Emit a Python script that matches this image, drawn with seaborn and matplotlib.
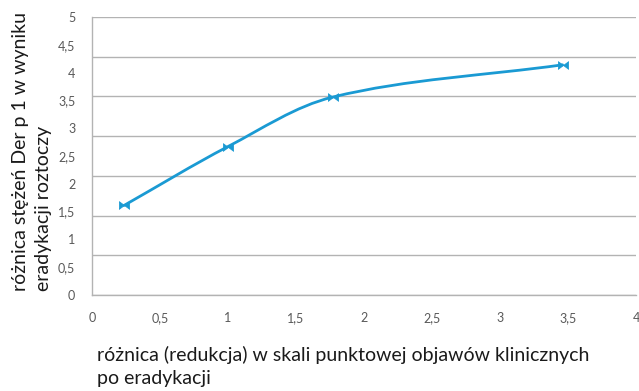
import numpy as np
import matplotlib
matplotlib.use("Agg")
from matplotlib import pyplot as plt
from matplotlib.path import Path
from matplotlib.patches import PathPatch
import seaborn as sns
import pandas as pd

# Data
x_vals = [0.235, 1.0, 1.77, 3.46]
y_vals = [1.61, 2.67, 3.56, 4.14]

x_ticks = [0, 0.5, 1, 1.5, 2, 2.5, 3, 3.5, 4]
y_labels = [0, 0.5, 1, 1.5, 2, 2.5, 3, 3.5, 4, 4.5, 5]
n_grid = 7  # gridlines split 0..5 into 7 bands

x_title = "różnica (redukcja) w skali punktowej objawów klinicznych\npo eradykacji"
y_title = "różnica stężeń Der p 1 w wyniku\neradykacji roztoczy"

df = pd.DataFrame({"x": x_vals, "y": y_vals})

sns.set_style("white")
plt.rcParams["font.family"] = ["Lato", "DejaVu Sans"]

blue = "#1a9ad3"
grey = "#b3b3b3"

fig = plt.figure(figsize=(6.39, 3.91), dpi=100)
ax = fig.add_axes([92 / 639, 1 - 295 / 391, 544 / 639, 278 / 391])

ax.set_xlim(0, 4)
ax.set_ylim(0, 5)

# smoothed line through the points, tangents worked out in pixel space
sx, sy = 544 / 4, 278 / 5
pts = np.column_stack([df["x"] * sx, df["y"] * sy])
n = len(pts)
tang = []
for i in range(n):
    d = pts[min(i + 1, n - 1)] - pts[max(i - 1, 0)]
    tang.append(d / np.hypot(*d))
verts = [pts[0]]
codes = [Path.MOVETO]
for i in range(n - 1):
    L = np.hypot(*(pts[i + 1] - pts[i])) / 3
    verts += [pts[i] + tang[i] * L, pts[i + 1] - tang[i + 1] * L, pts[i + 1]]
    codes += [Path.CURVE4] * 3
verts = np.array(verts) / [sx, sy]
ax.add_patch(PathPatch(Path(verts, codes), facecolor="none", edgecolor=blue,
                       lw=2.0, zorder=3, capstyle="round"))

bowtie = [(-1, -0.75), (1, 0.75), (1, -0.75), (-1, 0.75), (-1, -0.75)]
sns.scatterplot(data=df, x="x", y="y", ax=ax, marker=bowtie, s=55,
                color=blue, edgecolor=blue, linewidth=0.5, zorder=4)

# gridlines / ticks
ax.yaxis.remove_overlapping_locs = False
grid_pos = [5 * k / n_grid for k in range(n_grid + 1)]
ax.set_yticks(grid_pos)
ax.set_yticklabels([])
ax.set_yticks(y_labels, minor=True)
ax.set_yticklabels([str(v).replace(".", ",").replace(",0", "") for v in y_labels],
                   minor=True)
ax.tick_params(axis="y", which="major", length=4, color=grey, width=1)
ax.tick_params(axis="y", which="minor", length=0, pad=12, labelsize=9,
               labelcolor="#595959")
ax.grid(axis="y", which="major", color=grey, lw=1)

ax.set_xticks(x_ticks)
ax.set_xticklabels([str(v).replace(".", ",").replace(",0", "") for v in x_ticks])
ax.tick_params(axis="x", direction="inout", length=6, color=grey, width=1,
               labelsize=9, labelcolor="#595959", pad=9)

for s in ["top", "right"]:
    ax.spines[s].set_visible(False)
for s in ["left", "bottom"]:
    ax.spines[s].set_color(grey)
    ax.spines[s].set_linewidth(1)

ax.set_xlabel("")
ax.set_ylabel("")

fig.text(97 / 639, 1 - 346 / 391, x_title, ha="left", va="top", fontsize=14,
         color="#1a1a1a", linespacing=1.4)
fig.text(32 / 639, 1 - 291 / 391, y_title, rotation=90, ha="center", va="bottom",
         multialignment="left", fontsize=14, color="#1a1a1a", linespacing=1.4)

fig.savefig("out.png", dpi=100)
